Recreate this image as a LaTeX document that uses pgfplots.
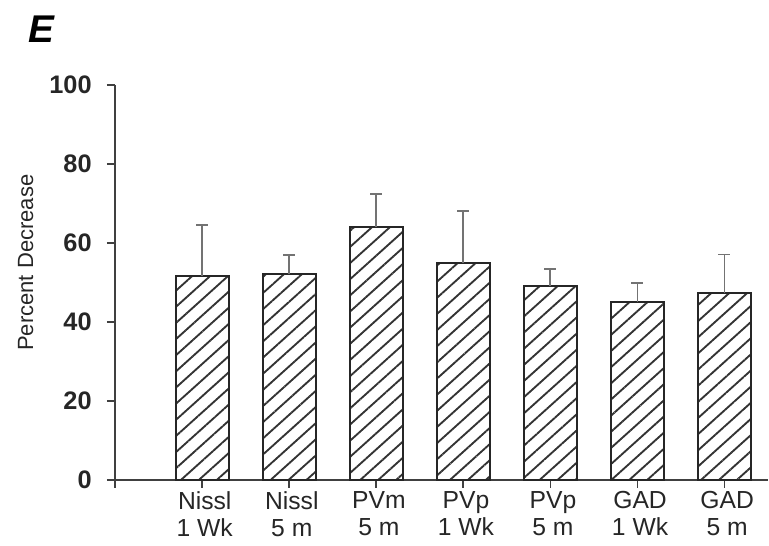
\documentclass[border=0pt]{standalone}
\usepackage{pgfplots}
\pgfplotsset{compat=1.18}
\usepackage{fontspec}
\setmainfont{Liberation Sans}
\usetikzlibrary{patterns.meta}
\begin{document}
\begin{tikzpicture}
\path[use as bounding box] (0,0) rectangle (576.75pt,409.5pt);
\node[font={\fontsize{29}{32}\selectfont\bfseries\itshape}] at (30.75pt,387.75pt) {E};
\begin{axis}[
  at={(86.25pt,49.5pt)}, anchor=south west,
  scale only axis, width=489.75pt, height=296.25pt,
  xmin=0, xmax=7.5, ymin=0, ymax=100,
  axis x line=bottom, axis y line=left,
  axis line style={line width=1.5pt, draw=black!75, -},
  tick align=outside,
  major tick length=6pt,
  tick style={line width=1.2pt, draw=black!75},
  xtick={0,1,2,3,4,5,6,7},
  xticklabels={,{Nissl\\1 Wk},{Nissl\\5 m},{PVm\\5 m},{PVp\\1 Wk},{PVp\\5 m},{GAD\\1 Wk},{GAD\\5 m}},
  xticklabel style={align=center, font={\fontsize{18.5}{20}\selectfont}, text=black!85, yshift=-1.5pt, xshift=2pt, inner sep=1pt},
  ytick={0,20,40,60,80,100},
  yticklabel style={font={\fontsize{19}{21}\selectfont\bfseries}, text=black!85, xshift=-8pt},
  /pgf/number format/assume math mode=true,
  ylabel={Percent Decrease},
  ylabel style={at={(axis description cs:-0.137,0.55)}, anchor=center, rotate=0, font={\fontsize{16.5}{18}\selectfont}, text=black!85},
  clip=false,
]
\addplot[ybar, bar width=39.75pt, draw=black!85, line width=1.5pt,
  pattern={Lines[angle=42, distance=9pt, line width=1.4pt]}, pattern color=black!80,
  error bars/.cd, y dir=plus, y explicit,
  error bar style={line width=1.3pt, draw=black!55},
  error mark options={rotate=90, mark size=4.5pt, line width=1.3pt, draw=black!55}]
coordinates {
  (1,51.7) +- (0,12.9)
  (2,52.2) +- (0,4.8)
  (3,64.1) +- (0,8.3)
  (4,54.9) +- (0,13.2)
  (5,49.1) +- (0,4.3)
  (6,45.1) +- (0,4.7)
  (7,47.3) +- (0,9.8)
};
\end{axis}
\end{tikzpicture}
\end{document}
